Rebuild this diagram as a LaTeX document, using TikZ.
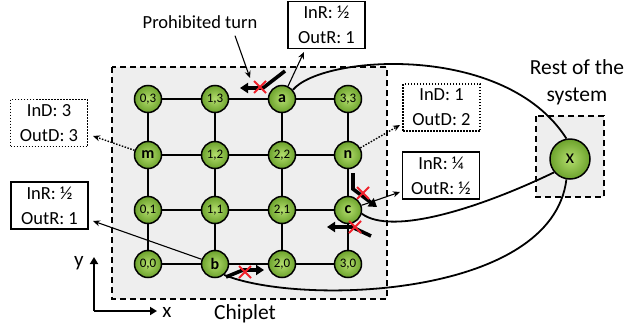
\documentclass[tikz,border=0pt]{standalone}
\usepackage{fontspec}
\setmainfont{Carlito}
\usetikzlibrary{arrows.meta}
\definecolor{gin}{HTML}{B4DE6E}
\definecolor{gout}{HTML}{6CA22C}
\definecolor{boxgray}{HTML}{EEEEEE}
\definecolor{xred}{HTML}{F0202A}
\begin{document}
\begin{tikzpicture}[x=1pt,y=-1pt,
  router/.style={circle,draw=black,line width=1.5pt,inner sep=0pt,minimum size=27pt,inner color=gin,outer color=gout,font=\fontsize{13}{13}\selectfont},
  named/.style={router,font=\fontsize{16}{16}\selectfont\bfseries},
  region/.style={draw=black,fill=boxgray,line width=2pt,dash pattern=on 6pt off 4pt},
  link/.style={line width=1.8pt},
  infobox/.style={draw=black,line width=1.4pt,fill=white,minimum width=77pt,minimum height=47pt,align=center,inner sep=0pt,font=\fontsize{18.5}{25}\selectfont},
  dotbox/.style={infobox,dash pattern=on 1.5pt off 1.5pt,line width=1.6pt},
  thinarrow/.style={line width=1.1pt,-{Stealth[length=7pt,width=6pt]}},
  dotarrow/.style={thinarrow,dash pattern=on 1.5pt off 1.5pt,line width=1.4pt},
  turnarrow/.style={line width=3.6pt,-{Triangle[length=8pt,width=10pt]}},
  cross/.style={draw=xred,line width=2pt},
  label/.style={inner sep=0pt,font=\fontsize{18.5}{22}\selectfont},
  biglabel/.style={inner sep=0pt,align=center,font=\fontsize{21.5}{27}\selectfont},
  axis/.style={line width=2.2pt,-{Triangle[length=7pt,width=8pt]}},
  pics/nogo/.style={code={\draw[cross] (-6,-6) -- (6,6) (-6,6) -- (6,-6);}}
]
\useasboundingbox (0,0) rectangle (626,327);

% regions
\draw[region] (112,67) rectangle (387,299);
\draw[region] (536,116) rectangle (604,197);

% routers
\node[router] (n03) at (148,99) {0,3};
\node[router] (n13) at (215,99) {1,3};
\node[named]  (a)   at (282,99) {a};
\node[router] (n33) at (348,99) {3,3};
\node[named]  (m)   at (148,155) {m};
\node[router] (n12) at (215,155) {1,2};
\node[router] (n22) at (282,155) {2,2};
\node[named]  (n)   at (348,155) {n};
\node[router] (n01) at (148,210) {0,1};
\node[router] (n11) at (215,210) {1,1};
\node[router] (n21) at (282,210) {2,1};
\node[named]  (c)   at (348,210) {c};
\node[router] (n00) at (148,264) {0,0};
\node[named]  (b)   at (215,264) {b};
\node[router] (n20) at (282,264) {2,0};
\node[router] (n30) at (348,264) {3,0};
\node[router,minimum size=40pt,font=\fontsize{20}{20}\selectfont] (x) at (570,159) {x};

% mesh links
\foreach \u/\v in {n03/n13,n13/a,a/n33,m/n12,n12/n22,n22/n,n01/n11,n11/n21,n21/c,n00/b,b/n20,n20/n30,
                   n03/m,m/n01,n01/n00,n13/n12,n12/n11,n11/b,a/n22,n22/n21,n21/n20,n33/n,n/c,c/n30}
  \draw[link] (\u) -- (\v);

% long links to the rest of the system
\draw[link] (a.40) .. controls (322,55) and (505,42) .. (x.100);
\draw[link] (c.-15) .. controls (392,236) and (480,208) .. (x.220);
\draw[link] (b.-50) .. controls (300,306) and (552,298) .. (x.260);

% info boxes
\node[infobox] (boxTop) at (326.5,25) {InR: ½\\OutR: 1};
\node[infobox] (boxL)   at (49.5,205.5) {InR: ½\\OutR: 1};
\node[infobox] (boxC)   at (441,175.5) {InR: ¼\\OutR: ½};
\node[dotbox]  (boxM)   at (49,123) {InD: 3\\OutD: 3};
\node[dotbox]  (boxN)   at (441.5,107.5) {InD: 1\\OutD: 2};

\coordinate (tipTop) at (304,52);
\coordinate (tipL) at (93,221);
\coordinate (tipC) at (400,192);
\coordinate (tipM) at (93,136);
\coordinate (tipN) at (400,125);
\draw[thinarrow] (a) -- (tipTop);
\draw[thinarrow] (b) -- (tipL);
\draw[thinarrow] (c) -- (tipC);
\draw[dotarrow] (m) -- (tipM);
\draw[dotarrow] (n) -- (tipN);

% prohibited turns
\draw[turnarrow] (285,71) -- (263,88) -- (240,88);
\pic at (260,87) {nogo};
\draw[turnarrow] (353,173) -- (353,189) -- (377,207);
\pic at (363,193) {nogo};
\draw[turnarrow] (371,236) -- (352,227) -- (327,227);
\pic at (355,227) {nogo};
\draw[turnarrow] (226,277) -- (243,270) -- (264,270);
\pic at (245,272) {nogo};

% labels
\node[label] (ptext) at (200,22) {Prohibited turn};
\coordinate (pturn) at (250,78);
\draw[thinarrow] ([xshift=35pt,yshift=-7pt]ptext.south) -- (pturn);
\node[biglabel] (chiplet) at (245,314) {Chiplet};
\node[biglabel] (rest) at (577,82) {Rest of the\\system};

% axes
\coordinate (origin) at (94,311);
\coordinate (yend) at (94,257);
\coordinate (xend) at (157,311);
\draw[axis] (origin) -- (yend);
\draw[axis] (origin) -- (xend);
\node[label,font=\fontsize{21}{21}\selectfont] (ylab) at (79,263) {y};
\node[label,font=\fontsize{21}{21}\selectfont] (xlab) at (167,312) {x};
\end{tikzpicture}
\end{document}
